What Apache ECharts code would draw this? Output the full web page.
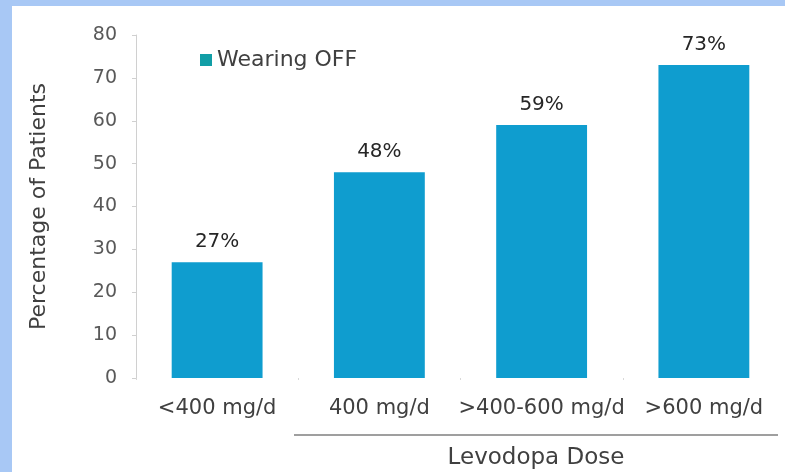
<!DOCTYPE html>
<html>
<head>
<meta charset="utf-8">
<script src="https://cdn.jsdelivr.net/npm/echarts@6/dist/echarts.min.js"></script>
<style>
  html, body { margin: 0; padding: 0; background: #a8c8f5; }
  #chart { width: 785px; height: 472px; }
</style>
</head>
<body>
<div id="chart"></div>
<script>
// Wearing-OFF prevalence by daily levodopa dose
const categories = ['<400 mg/d', '400 mg/d', '>400-600 mg/d', '>600 mg/d'];
const wearingOff = [27, 48, 59, 73];
const yTicks = [0, 10, 20, 30, 40, 50, 60, 70, 80];
const seriesName = 'Wearing OFF';
const xTitle = 'Levodopa Dose';
const yTitle = 'Percentage of Patients';

const FONT = '"DejaVu Sans", Verdana, sans-serif';
const chart = echarts.init(document.getElementById('chart'));

chart.setOption({
  backgroundColor: '#a8c8f5',
  animation: false,
  graphic: [
    // white panel inside the blue frame
    { type: 'rect', z: -10, silent: true,
      shape: { x: 12, y: 6, width: 773, height: 466 },
      style: { fill: '#ffffff' } },
    // bracket line under the dose categories
    { type: 'line', z: 5, silent: true,
      shape: { x1: 294, y1: 435, x2: 778, y2: 435 },
      style: { stroke: '#404040', lineWidth: 1.2 } },
    { type: 'text', z: 5, silent: true,
      style: { text: xTitle, x: 536, y: 458, textAlign: 'center', textVerticalAlign: 'middle',
               font: '23px ' + FONT, fill: '#404040' } }
  ],
  legend: {
    left: 195, top: 44,
    itemWidth: 12, itemHeight: 12, itemGap: 4,
    icon: 'rect',
    textStyle: { fontFamily: FONT, fontSize: 22, color: '#404040' },
    data: [{ name: seriesName, itemStyle: { color: '#119ea6' } }]
  },
  grid: { left: 136, right: 0, top: 35, bottom: 94 },
  xAxis: {
    type: 'category',
    data: categories,
    axisLine: { show: false },
    axisTick: { show: true, length: 2, lineStyle: { color: '#d8d8d8' } },
    axisLabel: { interval: 0, hideOverlap: false, margin: 20,
                 fontFamily: FONT, fontSize: 21, color: '#404040' }
  },
  yAxis: {
    type: 'value',
    min: yTicks[0], max: yTicks[yTicks.length - 1], interval: yTicks[1] - yTicks[0],
    name: yTitle,
    nameLocation: 'middle',
    nameGap: 86,
    nameTextStyle: { fontFamily: FONT, fontSize: 22, color: '#404040' },
    axisLine: { show: true, lineStyle: { color: '#d0d0d0' } },
    axisTick: { show: true, length: 4, lineStyle: { color: '#d0d0d0' } },
    axisLabel: { margin: 19, fontFamily: FONT, fontSize: 19, color: '#595959' },
    splitLine: { show: false }
  },
  series: [{
    name: seriesName,
    type: 'bar',
    data: wearingOff,
    barWidth: '56%',
    itemStyle: { color: '#0f9dcf' },
    label: {
      show: true, position: 'top', distance: 10,
      formatter: p => p.value + '%',
      fontFamily: FONT, fontSize: 20, color: '#262626'
    }
  }]
});
</script>
</body>
</html>
